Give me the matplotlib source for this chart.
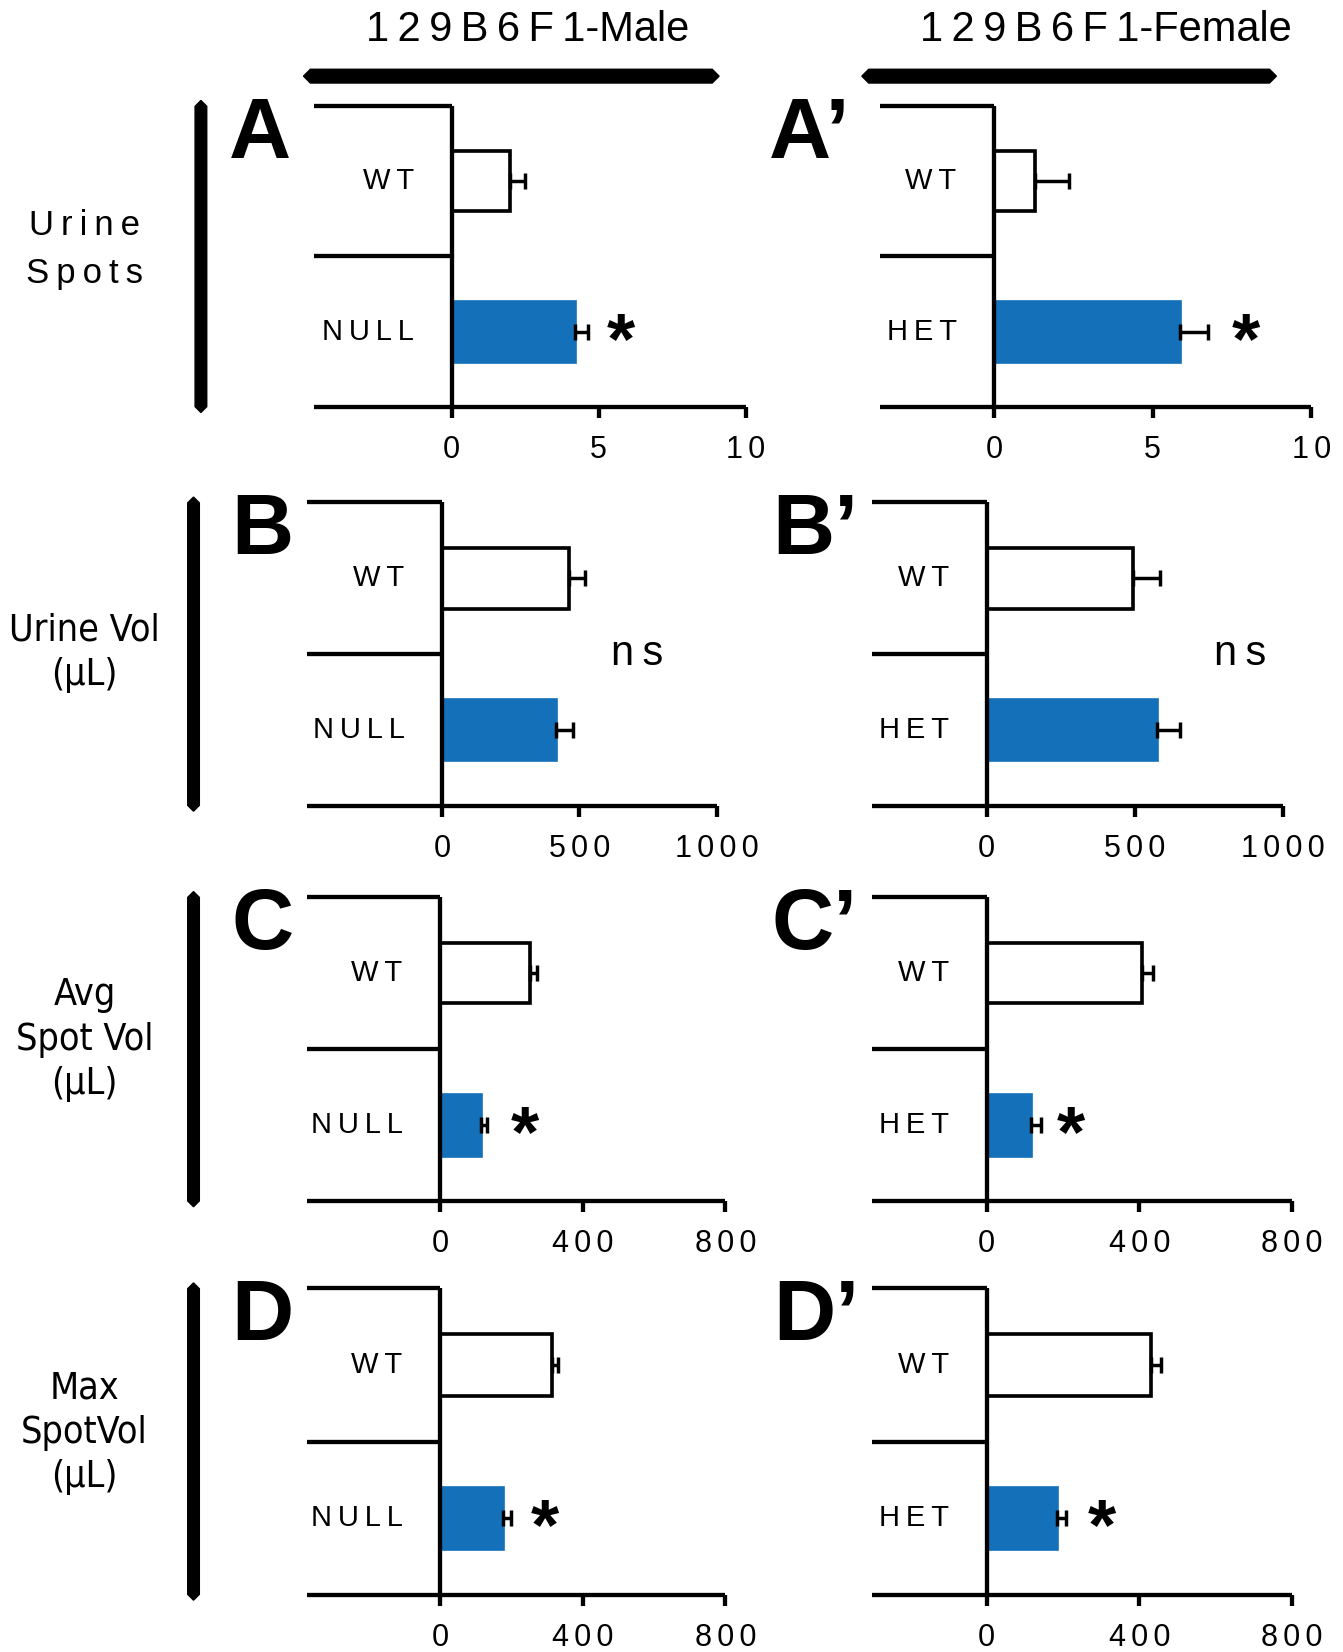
import numpy as np
import matplotlib.pyplot as plt
from matplotlib.patches import Polygon

plt.rcParams['font.family'] = ['Liberation Sans', 'DejaVu Sans']

# ---- data ----
male_groups = ['WT', 'NULL']
female_groups = ['WT', 'HET']

spots_male = [2.0, 4.2]
spots_male_err = [0.5, 0.45]
spots_female = [1.3, 5.85]
spots_female_err = [1.05, 0.9]

vol_male = [461, 415]
vol_male_err = [58, 62]
vol_female = [493, 575]
vol_female_err = [93, 79]

avg_male = [252, 116]
avg_male_err = [21, 17]
avg_female = [406, 115]
avg_female_err = [30, 27]

max_male = [314, 178]
max_male_err = [18, 21]
max_female = [429, 185]
max_female_err = [27, 24]

ticks_spots = [0, 5, 10]
ticks_vol = [0, 500, 1000]
ticks_avg = [0, 400, 800]
ticks_max = [0, 400, 800]

stars_male = [5.75, None, 237, 293]
stars_female = [7.93, None, 221, 303]
ns_male = [None, 711, None, None]
ns_female = [None, 857, None, None]

row_labels = ['Urine\nSpots', 'Urine Vol\n(µL)', 'Avg\nSpot Vol\n(µL)', 'Max\nSpotVol\n(µL)']
letters_male = ['A', 'B', 'C', 'D']
letters_female = ['A\u2019', 'B\u2019', 'C\u2019', 'D\u2019']

BLUE = '#1470b8'
LW = 3.1
W, H = 1270.0, 1562.0  # layout reference space


def fx(x):
    return x / W


def fy(y):
    return 1 - y / H


def spaced(s, sp='\u2009'):
    return sp.join(s)


def thick_bar(fig, x0, y0, x1, y1, t):
    # elongated hexagon, like the group brackets in the original
    if y0 == y1:
        pts = [(x0, y0), (x0 + t / 2, y0 - t / 2), (x1 - t / 2, y0 - t / 2),
               (x1, y0), (x1 - t / 2, y0 + t / 2), (x0 + t / 2, y0 + t / 2)]
    else:
        pts = [(x0, y0), (x0 + t / 2, y0 + t / 2), (x0 + t / 2, y1 - t / 2),
               (x0, y1), (x0 - t / 2, y1 - t / 2), (x0 - t / 2, y0 + t / 2)]
    pts = [(fx(a), fy(b)) for a, b in pts]
    fig.add_artist(Polygon(pts, closed=True, color='black', transform=fig.transFigure))


fig = plt.figure(figsize=(13.43, 16.52), dpi=100)

# panel layout: (x start, zero, x end, y top, y bottom)
rows_y = [(100, 385), (475, 762), (848, 1136), (1218, 1508)]
left_x = [(297, 427, 705), (290, 418, 678), (290, 416, 686), (290, 416, 686)]
right_x = [(832, 940, 1240), (825, 933, 1213), (825, 933, 1222), (825, 933, 1222)]
letter_left = [216, 219, 219, 219]
letter_right = [727, 730, 730, 731]

male = [(spots_male, spots_male_err), (vol_male, vol_male_err),
        (avg_male, avg_male_err), (max_male, max_male_err)]
female = [(spots_female, spots_female_err), (vol_female, vol_female_err),
          (avg_female, avg_female_err), (max_female, max_female_err)]
ticks = [ticks_spots, ticks_vol, ticks_avg, ticks_max]


def panel(xs, ys, vals, errs, groups, tk, star, ns, letter, lx):
    x0, z, x1 = xs
    yt, yb = ys
    ax = fig.add_axes([fx(x0), fy(yb), fx(x1) - fx(x0), fy(yt) - fy(yb)])
    xmax = tk[-1]
    xmin = -(z - x0) / (x1 - z) * xmax
    ax.set_xlim(xmin, xmax)
    ax.set_ylim(2, 0)
    for s in ['top', 'left', 'right']:
        ax.spines[s].set_visible(False)
    ax.spines['bottom'].set_linewidth(LW)
    ax.spines['bottom'].set_capstyle('butt')
    ax.set_yticks([])
    ax.set_xticks(tk)
    ax.set_xticklabels([spaced(str(t), '\u2006') for t in tk])
    ax.tick_params(axis='x', direction='out', length=8, width=LW, labelsize=22, pad=12)

    ypos = [0.5, 1.5]
    ax.barh(ypos, vals, height=0.4, color=['white', BLUE],
            edgecolor=['black', BLUE], linewidth=LW * 0.85, zorder=2)
    ax.errorbar(vals, ypos, xerr=[[0, 0], errs], fmt='none', ecolor='black',
                elinewidth=LW * 0.8, capsize=5.5, capthick=LW * 0.8, zorder=3)
    ax.vlines(0, 0, 2, color='black', lw=LW, clip_on=False, zorder=4)
    ax.hlines([0, 1], xmin, 0, color='black', lw=LW, clip_on=False, zorder=4)

    for yv, g in zip(ypos, groups):
        ax.annotate(spaced(g), (0, yv), xytext=(-27, 0), textcoords='offset points',
                    ha='right', va='center', fontsize=21)
    if star is not None:
        ax.text(star, 1.53, '*', fontsize=52, fontweight='bold',
                ha='center', va='center_baseline')
    if ns is not None:
        ax.text(ns, 1.0, spaced('ns'), fontsize=30, ha='center', va='center')
    fig.text(fx(lx), fy(yt + 49), letter, fontsize=62, fontweight='bold',
             ha='left', va='baseline')
    return ax


for i in range(4):
    panel(left_x[i], rows_y[i], male[i][0], male[i][1], male_groups,
          ticks[i], stars_male[i], ns_male[i], letters_male[i], letter_left[i])
    panel(right_x[i], rows_y[i], female[i][0], female[i][1], female_groups,
          ticks[i], stars_female[i], ns_female[i], letters_female[i], letter_right[i])

# left-hand row brackets and labels
bracket_x = [190, 183, 183, 183]
for i, (yt, yb) in enumerate(rows_y):
    thick_bar(fig, bracket_x[i], yt - 5, bracket_x[i], yb + 5, 11)

fig.text(fx(80), fy(236), spaced('Urine') + '\n' + spaced('Spots'),
         fontsize=25, ha='center', va='center', linespacing=1.55)
narrow = dict(family='DejaVu Sans', fontstretch='condensed')
fig.text(fx(80), fy(617), row_labels[1], fontsize=27, ha='center', va='center',
         linespacing=1.3, **narrow)
fig.text(fx(80), fy(983), row_labels[2], fontsize=27, ha='center', va='center',
         linespacing=1.3, **narrow)
fig.text(fx(80), fy(1355), row_labels[3], fontsize=27, ha='center', va='center',
         linespacing=1.3, **narrow)

# column headers
thick_bar(fig, 287, 72, 680, 72, 13)
thick_bar(fig, 815, 72, 1207, 72, 13)
fig.text(fx(499), fy(28), '1\u20092\u20099\u2009B\u20096\u2009F\u20091-Male',
         fontsize=30, ha='center', va='center')
fig.text(fx(1046), fy(28), '1\u20092\u20099\u2009B\u20096\u2009F\u20091-Female',
         fontsize=30, ha='center', va='center')

fig.savefig('out.png', dpi=100)
